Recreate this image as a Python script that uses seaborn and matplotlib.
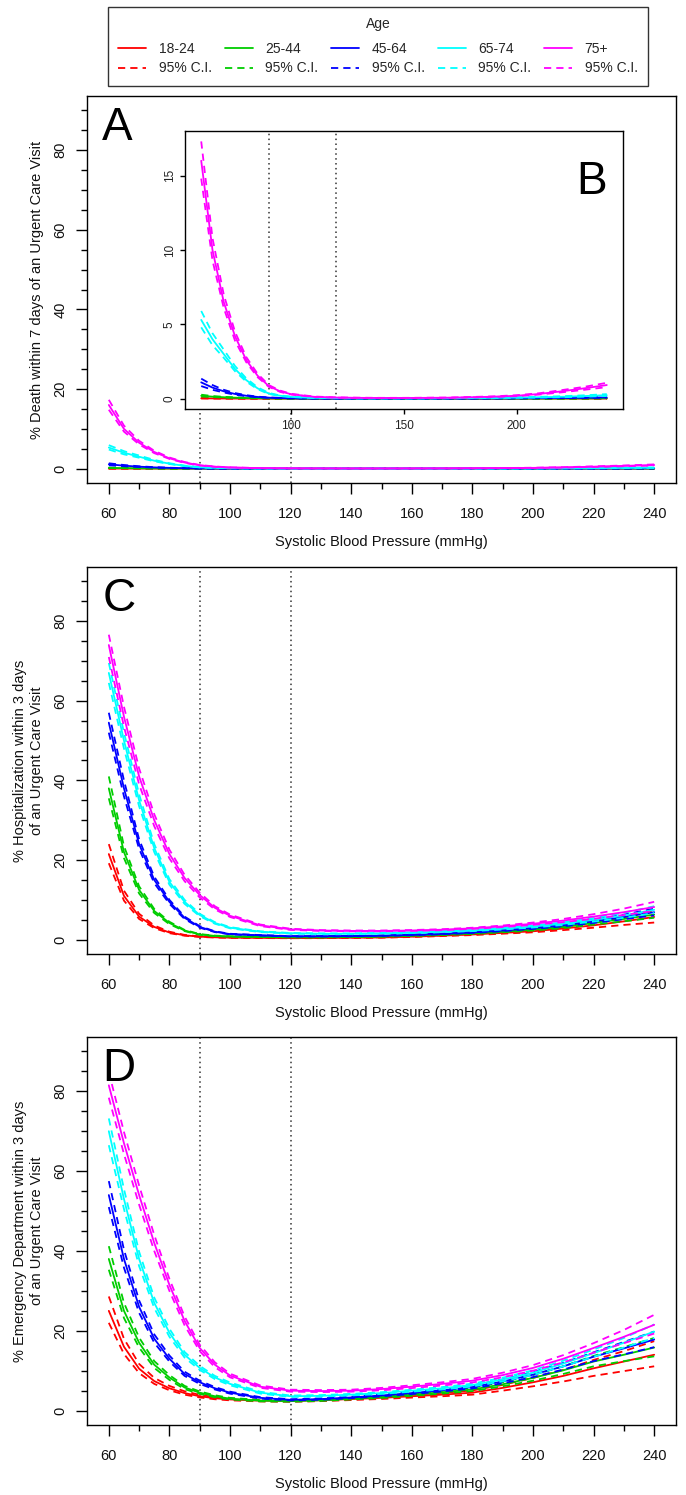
"""
Curvas de risco por idade vs pressão sistólica (painéis A-D)
"""
import matplotlib
matplotlib.use("Agg")
import matplotlib.pyplot as plt
import seaborn as sns
from matplotlib.lines import Line2D

# Eixo x comum (mmHg)
SBP = [60, 65, 70, 75, 80, 85, 90, 95, 100, 110, 120, 130, 140, 150, 160,
       170, 180, 190, 200, 210, 220, 230, 240]

AGE_GROUPS = ["18-24", "25-44", "45-64", "65-74", "75+"]
AGE_COLORS = ["#FF0000", "#00CD00", "#0000FF", "#00FFFF", "#FF00FF"]

# --- Painel A / B: morte em 7 dias ---
death_18 = [0.03, 0.022, 0.016, 0.012, 0.009, 0.007, 0.006, 0.005, 0.004, 0.003, 0.003, 0.003,
            0.003, 0.003, 0.003, 0.003, 0.004, 0.004, 0.005, 0.006, 0.008, 0.01, 0.012]
death_18_lo = [0.02, 0.015, 0.011, 0.008, 0.006, 0.005, 0.004, 0.0035, 0.003, 0.002, 0.002, 0.002,
               0.002, 0.002, 0.002, 0.002, 0.003, 0.003, 0.0035, 0.004, 0.005, 0.006, 0.007]
death_18_hi = [0.045, 0.032, 0.023, 0.017, 0.013, 0.01, 0.0085, 0.007, 0.0056, 0.0042, 0.0042, 0.0042,
               0.0042, 0.0042, 0.0042, 0.0042, 0.0056, 0.0056, 0.007, 0.0085, 0.011, 0.014, 0.018]
death_25 = [0.2, 0.14, 0.1, 0.07, 0.05, 0.04, 0.03, 0.02, 0.015, 0.01, 0.008, 0.007,
            0.007, 0.007, 0.007, 0.008, 0.009, 0.01, 0.012, 0.015, 0.02, 0.025, 0.03]
death_25_lo = [0.15, 0.11, 0.08, 0.055, 0.04, 0.032, 0.024, 0.016, 0.012, 0.008, 0.006, 0.005,
               0.005, 0.005, 0.005, 0.006, 0.007, 0.008, 0.009, 0.011, 0.015, 0.018, 0.021]
death_25_hi = [0.27, 0.18, 0.13, 0.09, 0.063, 0.05, 0.038, 0.025, 0.019, 0.013, 0.01, 0.009,
               0.009, 0.009, 0.009, 0.011, 0.012, 0.013, 0.016, 0.02, 0.027, 0.034, 0.042]
death_45 = [1.1, 0.75, 0.5, 0.32, 0.2, 0.12, 0.07, 0.05, 0.03, 0.02, 0.015, 0.015,
            0.015, 0.015, 0.015, 0.02, 0.02, 0.025, 0.03, 0.04, 0.05, 0.07, 0.09]
death_45_lo = [0.85, 0.6, 0.42, 0.27, 0.17, 0.1, 0.06, 0.04, 0.025, 0.015, 0.012, 0.012,
               0.012, 0.012, 0.012, 0.015, 0.015, 0.02, 0.024, 0.03, 0.038, 0.052, 0.065]
death_45_hi = [1.35, 0.92, 0.6, 0.38, 0.24, 0.14, 0.085, 0.06, 0.036, 0.025, 0.02, 0.018,
               0.018, 0.018, 0.018, 0.025, 0.026, 0.032, 0.04, 0.053, 0.066, 0.093, 0.12]
death_65 = [5.3, 4.0, 3.0, 2.0, 1.25, 0.7, 0.35, 0.2, 0.12, 0.06, 0.04, 0.03,
            0.03, 0.03, 0.03, 0.04, 0.05, 0.06, 0.08, 0.1, 0.13, 0.18, 0.24]
death_65_lo = [4.8, 3.6, 2.75, 1.85, 1.15, 0.64, 0.32, 0.18, 0.11, 0.05, 0.035, 0.025,
               0.025, 0.025, 0.025, 0.03, 0.04, 0.05, 0.06, 0.08, 0.1, 0.14, 0.18]
death_65_hi = [5.9, 4.4, 3.3, 2.2, 1.37, 0.77, 0.39, 0.22, 0.14, 0.07, 0.05, 0.035,
               0.035, 0.035, 0.035, 0.05, 0.06, 0.07, 0.1, 0.13, 0.17, 0.23, 0.31]
death_75 = [16.0, 10.0, 6.5, 4.2, 2.6, 1.55, 0.85, 0.5, 0.3, 0.13, 0.08, 0.06,
            0.05, 0.05, 0.06, 0.07, 0.1, 0.14, 0.2, 0.32, 0.5, 0.7, 0.92]
death_75_lo = [14.8, 9.3, 6.1, 3.9, 2.45, 1.45, 0.8, 0.46, 0.28, 0.12, 0.07, 0.05,
               0.045, 0.045, 0.05, 0.06, 0.09, 0.12, 0.17, 0.28, 0.43, 0.6, 0.78]
death_75_hi = [17.3, 10.8, 7.0, 4.5, 2.8, 1.68, 0.92, 0.55, 0.33, 0.15, 0.09, 0.07,
               0.06, 0.06, 0.07, 0.08, 0.12, 0.16, 0.24, 0.37, 0.58, 0.8, 1.07]

# --- Painel C: hospitalização em 3 dias ---
hosp_18 = [21.5, 11, 5.8, 3.2, 1.8, 1.1, 0.75, 0.6, 0.5, 0.45, 0.4, 0.42,
           0.48, 0.55, 0.75, 1.0, 1.3, 1.7, 2.1, 2.8, 3.6, 4.6, 5.7]
hosp_18_lo = [19.2, 9.8, 5.2, 2.9, 1.63, 1.0, 0.68, 0.54, 0.45, 0.4, 0.36, 0.38,
              0.43, 0.5, 0.67, 0.9, 1.15, 1.5, 1.85, 2.4, 3.0, 3.7, 4.3]
hosp_18_hi = [24, 12.3, 6.5, 3.55, 2.0, 1.2, 0.82, 0.66, 0.55, 0.5, 0.44, 0.46,
              0.53, 0.61, 0.83, 1.1, 1.45, 1.9, 2.4, 3.25, 4.3, 5.6, 7.3]
hosp_25 = [38, 22, 12.5, 7.2, 4.2, 2.3, 1.3, 0.95, 0.8, 0.7, 0.6, 0.6,
           0.7, 0.8, 1.0, 1.25, 1.55, 2.0, 2.5, 3.2, 4.2, 5.2, 6.3]
hosp_25_lo = [35.5, 20.5, 11.6, 6.7, 3.9, 2.15, 1.2, 0.88, 0.74, 0.65, 0.56, 0.56,
              0.65, 0.75, 0.93, 1.16, 1.44, 1.85, 2.3, 2.9, 3.8, 4.6, 5.5]
hosp_25_hi = [41, 23.5, 13.4, 7.7, 4.5, 2.45, 1.4, 1.02, 0.86, 0.75, 0.64, 0.64,
              0.75, 0.86, 1.07, 1.34, 1.66, 2.15, 2.7, 3.5, 4.6, 5.8, 7.1]
hosp_45 = [54.5, 38, 24, 15, 9.5, 5.5, 3.2, 2.0, 1.4, 1.1, 0.85, 0.85,
           0.9, 1.0, 1.2, 1.45, 1.8, 2.3, 2.9, 3.6, 4.6, 5.7, 6.9]
hosp_45_lo = [52, 36, 22.8, 14.2, 9.0, 5.2, 3.0, 1.9, 1.32, 1.04, 0.8, 0.8,
              0.85, 0.95, 1.13, 1.37, 1.7, 2.15, 2.7, 3.35, 4.2, 5.15, 6.1]
hosp_45_hi = [57, 40, 25.2, 15.8, 10.0, 5.8, 3.4, 2.1, 1.48, 1.16, 0.9, 0.9,
              0.95, 1.06, 1.27, 1.54, 1.9, 2.45, 3.1, 3.85, 5.0, 6.3, 7.8]
hosp_65 = [67, 50, 35, 23, 14.5, 9.5, 6.2, 4.2, 3.0, 2.0, 1.6, 1.5,
           1.5, 1.6, 1.75, 2.0, 2.3, 2.75, 3.3, 4.0, 5.0, 6.1, 7.5]
hosp_65_lo = [64.5, 48, 33.5, 22, 13.8, 9.0, 5.9, 4.0, 2.85, 1.9, 1.52, 1.42,
              1.42, 1.5, 1.65, 1.88, 2.15, 2.55, 3.05, 3.7, 4.55, 5.5, 6.7]
hosp_65_hi = [69.5, 52, 36.5, 24, 15.2, 10.0, 6.5, 4.4, 3.15, 2.1, 1.68, 1.58,
              1.58, 1.7, 1.85, 2.12, 2.45, 2.95, 3.55, 4.35, 5.45, 6.75, 8.4]
hosp_75 = [74, 56, 41, 30, 21.5, 15.5, 11.2, 8.0, 6.0, 3.6, 2.6, 2.3,
           2.2, 2.2, 2.3, 2.5, 2.85, 3.35, 4.0, 4.8, 5.8, 6.9, 8.2]
hosp_75_lo = [71, 53.5, 39, 28.5, 20.4, 14.7, 10.6, 7.6, 5.7, 3.4, 2.45, 2.2,
              2.1, 2.1, 2.2, 2.38, 2.7, 3.15, 3.7, 4.4, 5.25, 6.2, 7.2]
hosp_75_hi = [76.6, 58.5, 43, 31.5, 22.6, 16.3, 11.8, 8.4, 6.3, 3.8, 2.75, 2.4,
              2.3, 2.3, 2.42, 2.63, 3.0, 3.55, 4.3, 5.2, 6.4, 7.8, 9.5]

# --- Painel D: urgência hospitalar em 3 dias ---
ed_18 = [25, 16, 10.5, 7.4, 5.6, 4.4, 3.6, 3.1, 2.8, 2.5, 2.4, 2.6,
         2.9, 3.2, 3.6, 4.0, 4.5, 5.7, 7.1, 8.7, 10.6, 12.3, 14.0]
ed_18_lo = [22, 14.2, 9.4, 6.7, 5.1, 4.0, 3.3, 2.85, 2.58, 2.3, 2.2, 2.38,
            2.65, 2.92, 3.27, 3.6, 4.0, 5.0, 6.1, 7.3, 8.7, 9.9, 11.1]
ed_18_hi = [28.6, 18, 11.7, 8.2, 6.2, 4.85, 3.95, 3.38, 3.05, 2.72, 2.62, 2.84,
            3.17, 3.5, 3.97, 4.45, 5.05, 6.45, 8.2, 10.2, 12.7, 14.9, 17.4]
ed_25 = [38, 25, 17, 11.5, 8.3, 5.8, 4.5, 3.6, 3.0, 2.5, 2.4, 2.6,
         3.0, 3.4, 4.0, 4.6, 5.3, 6.6, 8.2, 10.1, 12.3, 14.0, 15.8]
ed_25_lo = [35.3, 23.2, 15.8, 10.7, 7.7, 5.4, 4.2, 3.35, 2.8, 2.33, 2.24, 2.43,
            2.8, 3.17, 3.72, 4.27, 4.9, 6.1, 7.5, 9.2, 11.1, 12.4, 13.6]
ed_25_hi = [41.2, 27, 18.3, 12.4, 8.9, 6.2, 4.8, 3.85, 3.2, 2.67, 2.57, 2.78,
            3.2, 3.63, 4.3, 4.95, 5.72, 7.15, 8.95, 11.1, 13.7, 15.9, 18.2]
ed_45 = [54, 38, 26, 18, 13.0, 9.2, 7.1, 5.6, 4.5, 3.2, 2.7, 2.9,
         3.3, 3.8, 4.4, 5.1, 5.9, 7.3, 9.0, 11.1, 13.5, 15.6, 17.8]
ed_45_lo = [51, 35.8, 24.5, 17, 12.3, 8.7, 6.7, 5.3, 4.25, 3.02, 2.55, 2.74,
            3.12, 3.58, 4.15, 4.8, 5.55, 6.85, 8.4, 10.3, 12.4, 14.1, 15.9]
ed_45_hi = [57.5, 40.3, 27.6, 19.1, 13.8, 9.75, 7.5, 5.9, 4.75, 3.38, 2.86, 3.07,
            3.5, 4.03, 4.67, 5.42, 6.28, 7.8, 9.65, 11.95, 14.6, 17.2, 19.8]
ed_65 = [70, 53, 38, 27, 19.5, 14, 10.7, 8.3, 6.7, 4.5, 3.6, 3.7,
         4.0, 4.4, 5.0, 5.6, 6.4, 7.8, 9.5, 11.8, 14.4, 17.0, 19.8]
ed_65_lo = [66.5, 50.5, 36.2, 25.7, 18.5, 13.3, 10.2, 7.9, 6.35, 4.27, 3.42, 3.52,
            3.8, 4.18, 4.75, 5.3, 6.05, 7.35, 8.95, 11.1, 13.5, 15.8, 18.2]
ed_65_hi = [73.2, 55.5, 39.8, 28.3, 20.5, 14.7, 11.2, 8.7, 7.05, 4.73, 3.78, 3.9,
            4.2, 4.62, 5.25, 5.9, 6.75, 8.25, 10.1, 12.5, 15.3, 18.2, 21.6]
ed_75 = [81.5, 67, 54, 42, 31.5, 22.5, 15.7, 11.5, 8.8, 6.0, 5.0, 4.9,
         5.0, 5.4, 6.0, 6.7, 7.5, 8.9, 10.7, 13.0, 15.7, 18.5, 21.5]
ed_75_lo = [78.4, 64.3, 51.6, 40, 30, 21.4, 14.9, 10.9, 8.35, 5.7, 4.75, 4.65,
            4.75, 5.1, 5.65, 6.3, 7.05, 8.35, 10.0, 12.1, 14.5, 16.9, 19.3]
ed_75_hi = [84.8, 69.8, 56.4, 44, 33, 23.6, 16.5, 12.1, 9.25, 6.3, 5.25, 5.15,
            5.25, 5.7, 6.35, 7.1, 7.95, 9.5, 11.4, 13.9, 16.9, 20.2, 24.0]

DEATH = [(death_18, death_18_lo, death_18_hi), (death_25, death_25_lo, death_25_hi),
         (death_45, death_45_lo, death_45_hi), (death_65, death_65_lo, death_65_hi),
         (death_75, death_75_lo, death_75_hi)]
HOSP = [(hosp_18, hosp_18_lo, hosp_18_hi), (hosp_25, hosp_25_lo, hosp_25_hi),
        (hosp_45, hosp_45_lo, hosp_45_hi), (hosp_65, hosp_65_lo, hosp_65_hi),
        (hosp_75, hosp_75_lo, hosp_75_hi)]
ED = [(ed_18, ed_18_lo, ed_18_hi), (ed_25, ed_25_lo, ed_25_hi),
      (ed_45, ed_45_lo, ed_45_hi), (ed_65, ed_65_lo, ed_65_hi),
      (ed_75, ed_75_lo, ed_75_hi)]

XLABEL = "Systolic Blood Pressure (mmHg)"
W, H = 686, 1495
LW = 1.3
DASH = (4, 2.8)
DOT = (1.0, 2.2)

sns.set_theme(style="ticks")
plt.rcParams['font.family'] = ['Liberation Sans', 'DejaVu Sans']
plt.rcParams['axes.linewidth'] = 1.0
plt.rcParams['axes.edgecolor'] = 'black'


def px_rect(left, top, right, bottom):
    # converte caixa em pixels para coordenadas da figura
    return [left / W, (H - bottom) / H, (right - left) / W, (bottom - top) / H]


def draw_curves(ax, series):
    for (mean, lo, hi), color in zip(series, AGE_COLORS):
        sns.lineplot(x=SBP, y=lo, ax=ax, color=color, lw=LW,
                     linestyle=(0, DASH), estimator=None, sort=False)
        sns.lineplot(x=SBP, y=hi, ax=ax, color=color, lw=LW,
                     linestyle=(0, DASH), estimator=None, sort=False)
        sns.lineplot(x=SBP, y=mean, ax=ax, color=color, lw=LW,
                     estimator=None, sort=False)


def style_main(ax, ylabel, letter, ycoord_x):
    ax.set_xlim(52.8, 247.2)
    ax.set_ylim(-3.6, 93.6)
    ax.set_xticks(range(60, 241, 20))
    ax.set_xticks(range(70, 240, 20), minor=True)
    ax.set_yticks(range(0, 81, 20))
    ax.set_yticks([v for v in range(5, 91, 5) if v % 20], minor=True)
    ax.tick_params(axis='both', which='both', bottom=True, left=True,
                   top=False, right=False)
    ax.tick_params(axis='both', which='major', direction='out', length=8,
                   width=1.0, color='black', labelsize=10.5, labelcolor='#111111')
    ax.tick_params(axis='both', which='minor', direction='out', length=4.3,
                   width=1.0, color='black')
    ax.tick_params(axis='x', which='major', pad=9)
    ax.tick_params(axis='y', which='major', pad=6)
    for lab in ax.get_yticklabels():
        lab.set_rotation(90)
        lab.set_va('center')
    ax.set_xlabel(XLABEL, fontsize=10.5, color='#111111')
    ax.set_ylabel(ylabel, fontsize=10.5, color='#111111', linespacing=1.3)
    ax.xaxis.set_label_coords(0.5, -0.135)
    ax.yaxis.set_label_coords(ycoord_x, 0.5)
    for sp in ax.spines.values():
        sp.set_visible(True)
        sp.set_color('black')
    ax.text(0.026, 0.975, letter, transform=ax.transAxes, fontsize=33,
            ha='left', va='top', color='black')


fig = plt.figure(figsize=(W / 100, H / 100), dpi=100)
fig.patch.set_facecolor('white')

# Painel A
axA = fig.add_axes(px_rect(87, 96, 676, 483))
draw_curves(axA, DEATH)
for xv in (90, 120):
    axA.axvline(xv, ymax=0.2, color='#333333', lw=1.1, linestyle=(0, DOT), zorder=1)
style_main(axA, "% Death within 7 days of an Urgent Care Visit", "A", -0.073)

# Painel B (inset)
axB = fig.add_axes(px_rect(185, 131, 623, 409))
axB.set_facecolor('white')
draw_curves(axB, DEATH)
for xv in (90, 120):
    axB.axvline(xv, color='#333333', lw=1.1, linestyle=(0, DOT), zorder=1)
axB.set_xlim(52.8, 247.2)
axB.set_ylim(-0.69, 18.0)
axB.set_xticks([100, 150, 200])
axB.set_yticks([0, 5, 10, 15])
axB.tick_params(axis='both', bottom=True, left=True, direction='out',
                length=3.6, width=1.0, color='black', labelsize=8.5,
                labelcolor='#222222')
axB.tick_params(axis='x', pad=4)
axB.tick_params(axis='y', pad=3)
for lab in axB.get_yticklabels():
    lab.set_rotation(90)
    lab.set_va('center')
axB.set_xlabel("")
axB.set_ylabel("")
for sp in axB.spines.values():
    sp.set_visible(True)
    sp.set_color('black')
axB.text(0.893, 0.895, "B", transform=axB.transAxes, fontsize=33,
         ha='left', va='top', color='black')

# Painel C
axC = fig.add_axes(px_rect(87, 567, 676, 954))
draw_curves(axC, HOSP)
for xv in (90, 120):
    axC.axvline(xv, color='#333333', lw=1.1, linestyle=(0, DOT), zorder=1)
style_main(axC, "% Hospitalization within 3 days\nof an Urgent Care Visit", "C", -0.073)

# Painel D
axD = fig.add_axes(px_rect(87, 1037, 676, 1425))
draw_curves(axD, ED)
for xv in (90, 120):
    axD.axvline(xv, color='#333333', lw=1.1, linestyle=(0, DOT), zorder=1)
style_main(axD, "% Emergency Department within 3 days\nof an Urgent Care Visit", "D", -0.073)

# Legenda comum
handles, labels = [], []
for grp, color in zip(AGE_GROUPS, AGE_COLORS):
    handles.append(Line2D([], [], color=color, lw=LW))
    labels.append(grp)
    handles.append(Line2D([], [], color=color, lw=LW, linestyle=(0, DASH)))
    labels.append("95% C.I.")

leg = fig.legend(handles, labels, title="Age", ncol=5, loc='upper center',
                 bbox_to_anchor=(378 / W, 1 - 7 / H), fontsize=10,
                 title_fontsize=10, frameon=True, fancybox=False,
                 edgecolor='black', handlelength=2.0, handletextpad=0.9,
                 columnspacing=0.95, labelspacing=0.4, borderpad=0.75,
                 borderaxespad=0)
leg.get_frame().set_linewidth(1.0)
leg._legend_box.sep = 7.5

plt.savefig("out.png", dpi=100, facecolor='white')
print("guardado: out.png")
